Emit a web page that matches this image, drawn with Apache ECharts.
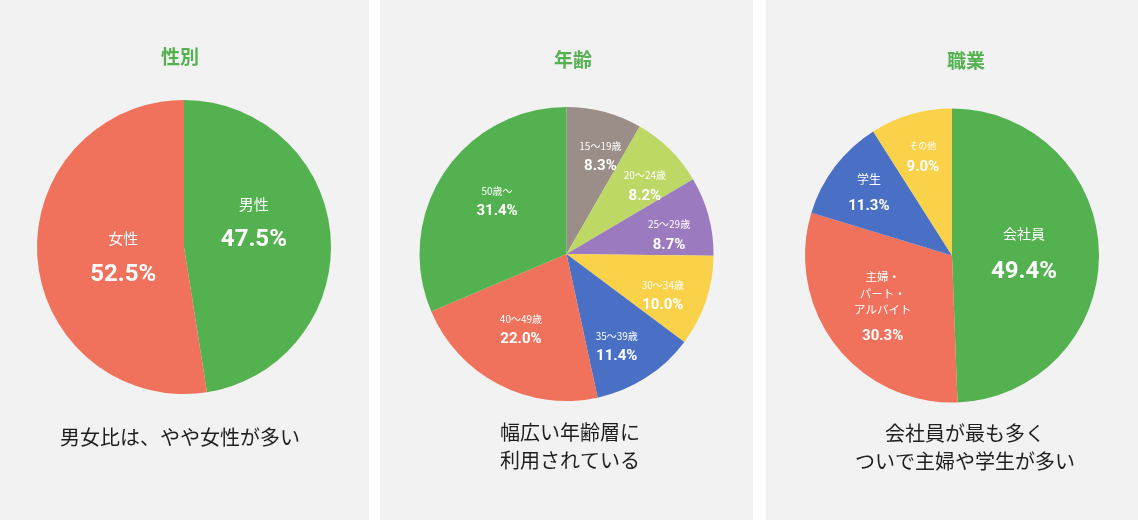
<!DOCTYPE html>
<html><head><meta charset="utf-8">
<script src="https://cdn.jsdelivr.net/npm/echarts@6/dist/echarts.min.js"></script>
<style>html,body{margin:0;padding:0;background:#fff}#c{width:1138px;height:520px}</style>
</head><body><div id="c"></div>
<script>
// ---- data ----
const genderNames = ['男性', '女性'];
const genderValues = [47.5, 52.5];
const ageNames = ['15〜19歳', '20〜24歳', '25〜29歳', '30〜34歳', '35〜39歳', '40〜49歳', '50歳〜'];
const ageValues = [8.3, 8.2, 8.7, 10.0, 11.4, 22.0, 31.4];
const jobNames = ['会社員', '主婦・\nパート・\nアルバイト', '学生', 'その他'];
const jobValues = [49.4, 30.3, 11.3, 9.0];
const titles = ['性別', '年齢', '職業'];
const captions = ['男女比は、やや女性が多い', '幅広い年齢層に\n利用されている', '会社員が最も多く\nついで主婦や学生が多い'];

// ---- styles ----
const GREEN = '#54b14f', RED = '#f0725c', BLUE = '#4a70c6', YELLOW = '#fad24a';
const genderColors = [GREEN, RED];
const ageColors = ['#9b8e89', '#bed865', '#9c7abf', YELLOW, BLUE, RED, GREEN];
const jobColors = [GREEN, RED, BLUE, YELLOW];

const genderLabel = { n: [15, 15], v: [24, 24], nlh: [26, 26], vlh: [46, 46], off: [[-2, -14], [11, 9]] };
const ageLabel = { n: [10, 10, 10, 10, 10, 10, 10], v: [15, 15, 15, 15, 15, 15, 15], nlh: [16, 16, 16, 16, 16, 16, 16], vlh: [25, 25, 25, 25, 25, 25, 25] };
const jobLabel = { n: [14, 11.5, 12, 9], v: [24, 15, 15, 15], nlh: [30, 16.5, 22, 18], vlh: [47, 37.5, 31, 25] };

const panels = [
  { x: 0, w: 369, center: [184, 247], title: [180, 57], cap: [180, 437], labelStart: 90 },
  { x: 380, w: 373, center: [566.5, 254], title: [573, 60], cap: [570, 446.5], labelStart: 86 },
  { x: 766, w: 372, center: [952, 255.5], title: [966, 61], cap: [965, 447.5], labelStart: 90 }
];
const R = 147;
const NAME_FONT = '"Noto Sans CJK JP", "Noto Sans", sans-serif';
const VAL_FONT = 'Roboto, "Noto Sans", sans-serif';

function ringRadius(f) {
  return f >= 0.5 ? [(2 * f - 1) * R, R] : [0, 2 * f * R];
}

function buildPie(idx, names, values, colors, ls, rings) {
  const p = panels[idx];
  const out = [{
    type: 'pie', center: p.center, radius: [0, R], startAngle: 90, clockwise: true,
    silent: true, label: { show: false }, labelLine: { show: false },
    itemStyle: { borderWidth: 0 },
    data: values.map((v, i) => ({ value: v, name: names[i], itemStyle: { color: colors[i] } }))
  }];
  rings.forEach(ring => {
    out.push({
      type: 'pie', center: p.center, radius: ringRadius(ring.f), startAngle: p.labelStart, clockwise: true,
      silent: true, z: 5, labelLine: { show: false },
      emphasis: { disabled: true },
      itemStyle: { color: 'rgba(0,0,0,0)', borderWidth: 0 },
      label: {
        position: 'inside',
        formatter: function (pp) {
          return pp.name.split('\n').map(l => '{n|' + l + '}').join('\n') + '\n{v|' + pp.value.toFixed(1) + '%}';
        }
      },
      data: values.map((v, i) => ({
        value: v, name: names[i],
        label: {
          show: ring.test(v),
          offset: ls.off ? ls.off[i] : [0, 3],
          rich: {
            n: { color: '#fff', fontSize: ls.n[i], lineHeight: ls.nlh[i], fontFamily: NAME_FONT, align: 'center' },
            v: { color: '#fff', fontSize: ls.v[i], lineHeight: ls.vlh[i], fontFamily: VAL_FONT, fontWeight: 'bold', align: 'center' }
          }
        }
      }))
    });
  });
  return out;
}

const threeRings = [
  { f: 0.69, test: v => v < 15 },
  { f: 0.575, test: v => v >= 15 && v < 40 },
  { f: 0.47, test: v => v >= 40 }
];

const series = [].concat(
  buildPie(0, genderNames, genderValues, genderColors, genderLabel, threeRings),
  buildPie(1, ageNames, ageValues, ageColors, ageLabel, threeRings),
  buildPie(2, jobNames, jobValues, jobColors, jobLabel, threeRings)
);

const graphic = [];
panels.forEach((p, i) => {
  graphic.push({ type: 'rect', z: -10, silent: true, shape: { x: p.x, y: 0, width: p.w, height: 520 }, style: { fill: '#f2f2f2' } });
  graphic.push({ type: 'text', z: 10, silent: true, style: {
    text: titles[i], x: p.title[0], y: p.title[1], align: 'center', verticalAlign: 'middle',
    textAlign: 'center', textVerticalAlign: 'middle',
    fill: GREEN, fontSize: 19, fontWeight: 'bold', fontFamily: NAME_FONT } });
  graphic.push({ type: 'text', z: 10, silent: true, style: {
    text: captions[i], x: p.cap[0], y: p.cap[1], align: 'center', verticalAlign: 'middle',
    textAlign: 'center', textVerticalAlign: 'middle', lineHeight: 28,
    fill: '#1e1e1e', fontSize: 20, fontFamily: NAME_FONT } });
});

const chart = echarts.init(document.getElementById('c'), null, { renderer: 'canvas' });
chart.setOption({
  animation: false,
  backgroundColor: '#ffffff',
  graphic: graphic,
  series: series
});
</script></body></html>
